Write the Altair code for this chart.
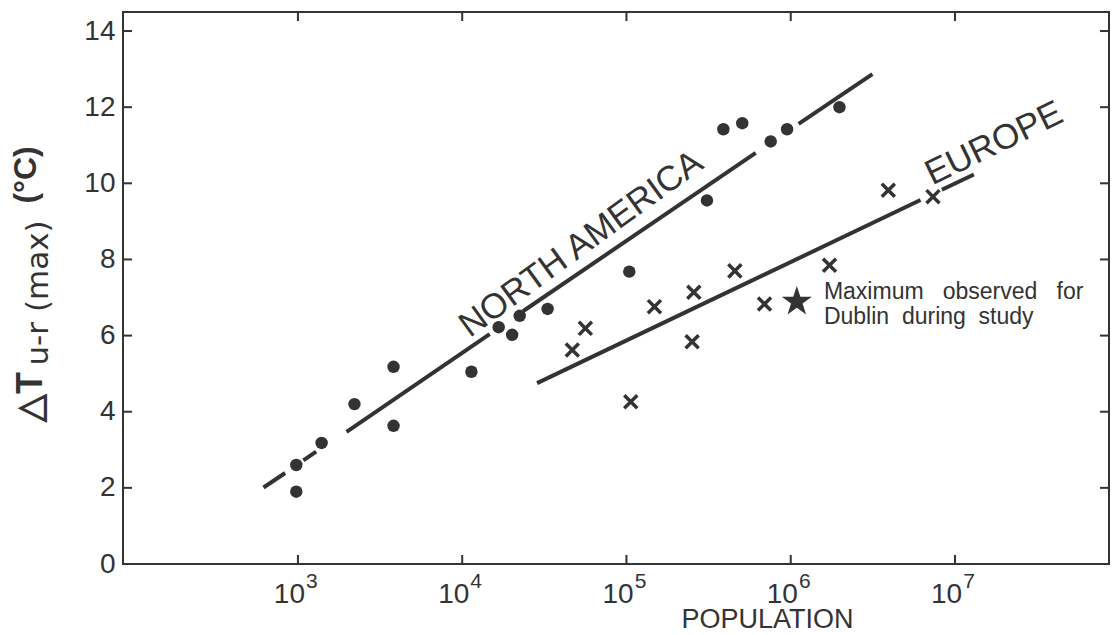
import altair as alt
import pandas as pd

# ---------------- data ----------------
# North America (filled circles)
na_population = [977, 977, 1393, 2208, 3819, 3819, 11376, 16672, 20137, 22387, 33113,
                 104000, 309000, 389000, 507000, 755000, 950000, 1980000]
na_dT = [1.90, 2.60, 3.18, 4.20, 5.18, 3.63, 5.05, 6.22, 6.02, 6.52, 6.70,
         7.68, 9.55, 11.42, 11.58, 11.10, 11.42, 12.00]

# Europe (crosses)
eu_population = [46800, 56200, 106200, 148000, 257000, 251000, 457000, 692000,
                 1722000, 3926000, 7345000]
eu_dT = [5.62, 6.19, 4.26, 6.76, 7.14, 5.84, 7.70, 6.83, 7.85, 9.82, 9.65]

# Dublin (star)
dublin_population = [1089000]
dublin_dT = [6.89]

# regression lines, drawn as broken pieces
na_seg_x0 = [617, 1079, 1977, 23440, 1117000]
na_seg_x1 = [836, 1291, 14690, 612000, 3141000]
na_seg_y0 = [2.01, 2.72, 3.47, 6.64, 11.56]
na_seg_y1 = [2.39, 2.95, 6.04, 10.80, 12.87]

eu_seg_x0 = [28576, 8318000]
eu_seg_x1 = [6166000, 13032000]
eu_seg_y0 = [4.75, 9.83]
eu_seg_y1 = [9.56, 10.23]

# axis ticks
x_tick_values = [1e3, 1e4, 1e5, 1e6, 1e7]
x_tick_labels = ["10", "10", "10", "10", "10"]
x_tick_exps = ["3", "4", "5", "6", "7"]
y_tick_values = [0, 2, 4, 6, 8, 10, 12, 14]

# in-plot labels
na_label = ["NORTH AMERICA"]
na_label_pop = [52800]
na_label_dT = [8.41]
eu_label = ["EUROPE"]
eu_label_pop = [17260000]
eu_label_dT = [11.05]

note_lines = ["Maximum\u00a0\u00a0 observed\u00a0\u00a0 for",
              "Dublin\u00a0 during\u00a0 study"]
note_pop = [1592000, 1592000]
note_dT = [7.14, 6.49]

# y-axis title pieces: ΔT, subscript "u-r (max)", unit
ytitle_delta = ["\u25b3T"]
ytitle_delta_dT = [4.39]
ytitle_sub = ["u-r (max)"]
ytitle_sub_dT = [7.12]
ytitle_unit = ["(\u00b0C)"]
ytitle_unit_dT = [10.22]

# ---------------- chart ----------------
INK = "#333333"
FONT = "Liberation Sans"
STAR = ("M0,-1L0.2245,-0.309L0.9511,-0.309L0.3633,0.118L0.5878,0.809L0,0.382"
        "L-0.5878,0.809L-0.3633,0.118L-0.9511,-0.309L-0.2245,-0.309Z")
XMARK = "M-1,-1L1,1M-1,1L1,-1"

xscale = alt.Scale(type="log", domain=[86.1, 86600000], nice=False)
yscale = alt.Scale(domain=[0, 14.5], nice=False, zero=False)

label_expr = ""
for v, lab in zip(x_tick_values, x_tick_labels):
    label_expr += f"datum.value == {int(v)} ? '{lab}' : "
label_expr += "''"

main_x_axis = alt.Axis(orient="bottom", values=x_tick_values, labelExpr=label_expr,
                       domain=False, grid=False, ticks=False,
                       labelFont=FONT, labelFontSize=28, labelColor=INK, labelPadding=16,
                       labelOffset=-9,
                       title="POPULATION", titleFont=FONT, titleFontSize=27,
                       titleFontWeight="normal", titleColor=INK, titleX=644, titleY=63,
                       titleAlign="center", titleBaseline="alphabetic")
main_y_axis = alt.Axis(orient="left", values=y_tick_values, format="d",
                       domain=False, grid=False, ticks=False,
                       labelFont=FONT, labelFontSize=28, labelColor=INK, labelPadding=8,
                       title=None)

na_df = pd.DataFrame({"pop": na_population, "dT": na_dT})
eu_df = pd.DataFrame({"pop": eu_population, "dT": eu_dT})
du_df = pd.DataFrame({"pop": dublin_population, "dT": dublin_dT})
seg_df = pd.DataFrame({"x0": na_seg_x0 + eu_seg_x0, "x1": na_seg_x1 + eu_seg_x1,
                       "y0": na_seg_y0 + eu_seg_y0, "y1": na_seg_y1 + eu_seg_y1})
tick_df = pd.DataFrame({"v": x_tick_values, "e": x_tick_exps})
ytick_df = pd.DataFrame({"v": y_tick_values})
na_lab_df = pd.DataFrame({"t": na_label, "pop": na_label_pop, "dT": na_label_dT})
eu_lab_df = pd.DataFrame({"t": eu_label, "pop": eu_label_pop, "dT": eu_label_dT})
note_df = pd.DataFrame({"t": note_lines, "pop": note_pop, "dT": note_dT})
yt_delta_df = pd.DataFrame({"t": ytitle_delta, "dT": ytitle_delta_dT})
yt_sub_df = pd.DataFrame({"t": ytitle_sub, "dT": ytitle_sub_dT})
yt_unit_df = pd.DataFrame({"t": ytitle_unit, "dT": ytitle_unit_dT})


# every layer carries the same axis definition so that they merge into one axis
def X(field):
    return alt.X(field, type="quantitative", scale=xscale, axis=main_x_axis)


def Y(field):
    return alt.Y(field, type="quantitative", scale=yscale, axis=main_y_axis)


na_layer = alt.Chart(na_df).mark_circle(size=155, color=INK, opacity=1).encode(
    x=X("pop"), y=Y("dT"))

eu_layer = alt.Chart(eu_df).mark_point(shape=XMARK, filled=False,
                                       stroke=INK, strokeWidth=3.5, size=170,
                                       opacity=1).encode(x=X("pop"), y=Y("dT"))

star_layer = alt.Chart(du_df).mark_point(shape=STAR, filled=True, color=INK, size=1000,
                                         opacity=1).encode(x=X("pop"), y=Y("dT"))

seg_layer = alt.Chart(seg_df).mark_rule(color=INK, strokeWidth=4, strokeCap="butt").encode(
    x=X("x0"), x2="x1", y=Y("y0"), y2="y1")

# inward ticks on all four sides of the frame
TL = 9
top_ticks = alt.Chart(tick_df).mark_rule(color=INK, strokeWidth=2).encode(
    x=X("v"), y=alt.value(0), y2=alt.value(TL))
bottom_ticks = alt.Chart(tick_df).mark_rule(color=INK, strokeWidth=2).encode(
    x=X("v"), y=alt.value(552), y2=alt.value(552 - TL))
left_ticks = alt.Chart(ytick_df).mark_rule(color=INK, strokeWidth=2).encode(
    y=Y("v"), x=alt.value(0), x2=alt.value(TL))
right_ticks = alt.Chart(ytick_df).mark_rule(color=INK, strokeWidth=2).encode(
    y=Y("v"), x=alt.value(986), x2=alt.value(986 - TL))

exp_layer = alt.Chart(tick_df).mark_text(font=FONT, fontSize=21, color=INK, align="center",
                                         baseline="middle", dx=14).encode(
    x=X("v"), y=alt.value(570), text="e:N")

na_lab_layer = alt.Chart(na_lab_df).mark_text(font=FONT, fontSize=35, color=INK,
                                              align="center", baseline="middle",
                                              angle=324).encode(
    x=X("pop"), y=Y("dT"), text="t:N")

eu_lab_layer = alt.Chart(eu_lab_df).mark_text(font=FONT, fontSize=35, color=INK,
                                              align="center", baseline="middle",
                                              angle=334).encode(
    x=X("pop"), y=Y("dT"), text="t:N")

note_layer = alt.Chart(note_df).mark_text(font=FONT, fontSize=23, color=INK, align="left",
                                          baseline="middle").encode(
    x=X("pop"), y=Y("dT"), text="t:N")

yt_delta_layer = alt.Chart(yt_delta_df).mark_text(font=FONT, fontSize=36, fontWeight="bold",
                                                  color=INK, align="center",
                                                  baseline="alphabetic", angle=270).encode(
    x=alt.value(-81), y=Y("dT"), text="t:N")

yt_unit_layer = alt.Chart(yt_unit_df).mark_text(font=FONT, fontSize=32, fontWeight="bold",
                                                color=INK, align="center",
                                                baseline="alphabetic", angle=270).encode(
    x=alt.value(-87), y=Y("dT"), text="t:N")

yt_sub_layer = alt.Chart(yt_sub_df).mark_text(font="DejaVu Sans", fontSize=31, color=INK,
                                              align="center", baseline="alphabetic",
                                              angle=270).encode(
    x=alt.value(-75), y=Y("dT"), text="t:N")

chart = alt.layer(
    na_layer, seg_layer, eu_layer, star_layer,
    top_ticks, bottom_ticks, left_ticks, right_ticks, exp_layer,
    na_lab_layer, eu_lab_layer, note_layer, yt_delta_layer, yt_unit_layer, yt_sub_layer
).properties(
    width=986, height=552,
    padding={"left": 115, "top": 4, "right": 1, "bottom": 66},
    autosize=alt.AutoSizeParams(type="none"),
    background="white",
).configure_view(stroke=INK, strokeWidth=2)

chart.save("out.html", embed_options={"renderer": "svg", "actions": False})
